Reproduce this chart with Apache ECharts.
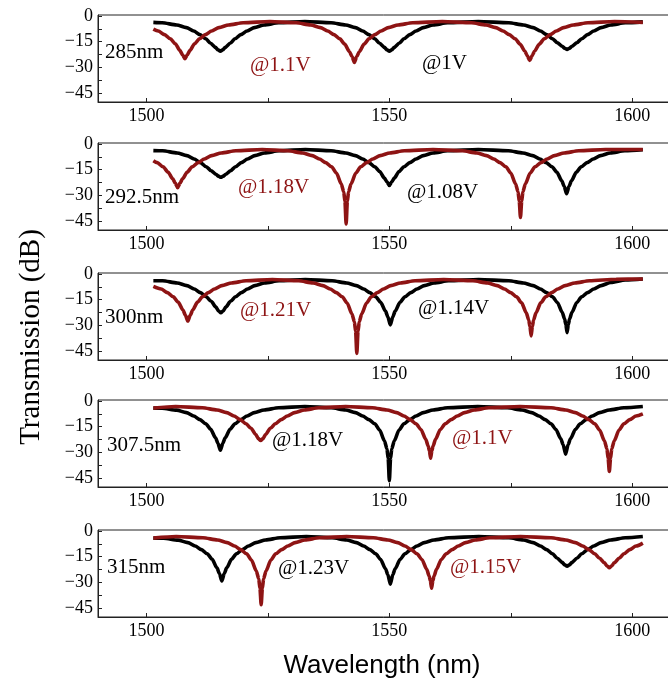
<!DOCTYPE html>
<html>
<head>
<meta charset="utf-8">
<script src="https://cdn.jsdelivr.net/npm/echarts@6/dist/echarts.min.js"></script>
<style>
html, body { margin: 0; padding: 0; background: #fff; }
#main { width: 668px; height: 693px; }
</style>
</head>
<body>
<div id="main"></div>
<script>
// ticks
var xTicks = [1500, 1525, 1550, 1575, 1600];
var xLabels = [1500, 1550, 1600];
var yTicks = [0, -7.5, -15, -22.5, -30, -37.5, -45];
var yLabels = [0, -15, -30, -45];

// panel texts
var gapNames = ['285nm', '292.5nm', '300nm', '307.5nm', '315nm'];
var blackVolts = ['@1V', '@1.08V', '@1.14V', '@1.18V', '@1.23V'];
var redVolts = ['@1.1V', '@1.18V', '@1.21V', '@1.1V', '@1.15V'];

// transmission spectra [wavelength nm, dB]
var p1Black = [[1501.4,-3.8],[1503.2,-4.0],[1506.2,-5.3],[1508.2,-6.8],[1509.7,-8.8],[1511.0,-10.9],[1512.2,-13.3],[1513.2,-15.9],[1514.2,-18.3],[1514.7,-19.7],[1515.2,-20.5],[1515.7,-19.7],[1516.2,-18.3],[1517.2,-15.9],[1518.2,-13.3],[1519.4,-10.9],[1520.7,-8.8],[1522.2,-6.8],[1524.2,-5.3],[1527.2,-4.0],[1532.6,-3.3],
  [1538,-4.0],[1541,-5.3],[1543,-6.8],[1544.5,-8.8],[1545.8,-10.9],[1547,-13.3],[1548,-15.9],[1549,-18.3],[1549.5,-19.7],[1550,-20.5],[1550.5,-19.7],[1551,-18.3],[1552,-15.9],[1553,-13.3],[1554.2,-10.9],[1555.5,-8.8],[1557,-6.8],[1559,-5.3],[1562,-4.0],[1568.3,-3.3],
  [1574.6,-4.0],[1577.6,-5.3],[1579.6,-6.8],[1581.1,-8.8],[1582.4,-10.9],[1583.6,-13.3],[1584.6,-15.6],[1585.6,-17.6],[1586.1,-18.8],[1586.6,-19.5],[1587.1,-18.8],[1587.6,-17.6],[1588.6,-15.6],[1589.6,-13.3],[1590.8,-10.9],[1592.1,-8.8],[1593.6,-6.8],[1595.6,-5.3],[1598.6,-4.0],[1602.2,-3.5]];
var p1Red = [[1501.4,-7.7],[1502.4,-8.8],[1503.7,-10.9],[1504.9,-13.3],[1505.9,-16.2],[1506.9,-20.2],[1507.4,-22.6],[1507.9,-24.9],[1508.4,-22.6],[1508.9,-20.2],[1509.9,-16.2],[1510.9,-13.3],[1512.1,-10.9],[1513.4,-8.8],[1514.9,-6.8],[1516.9,-5.3],[1519.9,-4.0],[1525.4,-3.3],
  [1530.8,-4.0],[1533.8,-5.3],[1535.8,-6.8],[1537.3,-8.8],[1538.6,-10.9],[1539.8,-13.3],[1540.8,-16.4],[1541.8,-20.8],[1542.3,-23.6],[1542.8,-27],[1543.3,-23.6],[1543.8,-20.8],[1544.8,-16.4],[1545.8,-13.3],[1547.0,-10.9],[1548.3,-8.8],[1549.8,-6.8],[1551.8,-5.3],[1554.8,-4.0],[1560.9,-3.3],
  [1566.9,-4.0],[1569.9,-5.3],[1571.9,-6.8],[1573.4,-8.8],[1574.7,-10.9],[1575.9,-13.3],[1576.9,-16.3],[1577.9,-20.5],[1578.4,-23.1],[1578.9,-25.9],[1579.4,-23.1],[1579.9,-20.5],[1580.9,-16.3],[1581.9,-13.3],[1583.1,-10.9],[1584.4,-8.8],[1585.9,-6.8],[1587.9,-5.3],[1590.9,-4.0],[1596.4,-3.3],[1602.2,-3.8]];

var p2Black = [[1501.4,-3.9],[1503.3,-4.0],[1506.3,-5.3],[1508.3,-6.8],[1509.8,-8.8],[1511.1,-10.9],[1512.3,-13.3],[1513.3,-15.6],[1514.3,-17.6],[1514.8,-18.7],[1515.3,-19.4],[1515.8,-18.7],[1516.3,-17.6],[1517.3,-15.6],[1518.3,-13.3],[1519.5,-10.9],[1520.8,-8.8],[1522.3,-6.8],[1524.3,-5.3],[1527.3,-4.0],[1532.7,-3.3],
  [1538,-4.0],[1541,-5.3],[1543,-6.8],[1544.5,-8.8],[1545.8,-10.9],[1547,-13.3],[1548,-16.0],[1549,-19.9],[1549.5,-22.0],[1550,-24.1],[1550.5,-22.0],[1551,-19.9],[1552,-16.0],[1553,-13.3],[1554.2,-10.9],[1555.5,-8.8],[1557,-6.8],[1559,-5.3],[1562,-4.0],[1568.3,-3.3],
  [1574.5,-4.0],[1577.5,-5.3],[1579.5,-6.8],[1581,-8.8],[1582.3,-10.9],[1583.5,-13.3],[1584.5,-16.5],[1585.5,-21.4],[1586,-24.7],[1586.5,-28.9],[1587,-24.7],[1587.5,-21.4],[1588.5,-16.5],[1589.5,-13.3],[1590.7,-10.9],[1592,-8.8],[1593.5,-6.8],[1595.5,-5.3],[1598.5,-4.0],[1602.2,-3.4]];
var p2Red = [[1501.4,-9.8],[1502.2,-10.9],[1503.4,-13.3],[1504.4,-16.3],[1505.4,-20.3],[1505.9,-22.8],[1506.4,-25.5],[1506.9,-22.8],[1507.4,-20.3],[1508.4,-16.3],[1509.4,-13.3],[1510.6,-10.9],[1511.9,-8.8],[1513.4,-6.8],[1515.4,-5.3],[1518.4,-4.0],[1523.8,-3.3],
  [1529.1,-4.0],[1532.1,-5.3],[1534.1,-6.8],[1535.6,-8.8],[1536.9,-10.9],[1538.1,-13.3],[1539.1,-16.9],[1540.1,-23.3],[1540.6,-27.8],[1540.85,-33.3],[1541.1,-46.5],[1541.35,-33.3],[1541.6,-27.8],[1542.1,-23.3],[1543.1,-16.9],[1544.1,-13.3],[1545.3,-10.9],[1546.6,-8.8],[1548.1,-6.8],[1550.1,-5.3],[1553.1,-4.0],[1559,-3.3],
  [1565,-4.0],[1568,-5.3],[1570,-6.8],[1571.5,-8.8],[1572.8,-10.9],[1574,-13.3],[1575,-16.9],[1576,-23.3],[1576.5,-27.8],[1576.75,-33.3],[1577,-42.7],[1577.25,-33.3],[1577.5,-27.8],[1578,-23.3],[1579,-16.9],[1580,-13.3],[1581.2,-10.9],[1582.5,-8.8],[1584,-6.8],[1586,-5.3],[1589,-4.0],[1594.5,-3.3],[1602.2,-3.3]];

var p3Black = [[1501.4,-4.0],[1503.3,-4.0],[1506.3,-5.3],[1508.3,-6.8],[1509.8,-8.8],[1511.1,-10.9],[1512.3,-13.3],[1513.3,-15.9],[1514.3,-19.3],[1514.8,-21.5],[1515.3,-22.6],[1515.8,-21.5],[1516.3,-19.3],[1517.3,-15.9],[1518.3,-13.3],[1519.5,-10.9],[1520.8,-8.8],[1522.3,-6.8],[1524.3,-5.3],[1527.3,-4.0],[1532.7,-3.3],
  [1538.2,-4.0],[1541.2,-5.3],[1543.2,-6.8],[1544.7,-8.8],[1546,-10.9],[1547.2,-13.3],[1548.2,-16.5],[1549.2,-21.6],[1549.7,-25.0],[1550.2,-29.7],[1550.7,-25.0],[1551.2,-21.6],[1552.2,-16.5],[1553.2,-13.3],[1554.4,-10.9],[1555.7,-8.8],[1557.2,-6.8],[1559.2,-5.3],[1562.2,-4.0],[1568.4,-3.3],
  [1574.6,-4.0],[1577.6,-5.3],[1579.6,-6.8],[1581.1,-8.8],[1582.4,-10.9],[1583.6,-13.3],[1584.6,-16.6],[1585.6,-22.3],[1586.1,-26.3],[1586.35,-29.5],[1586.6,-34.1],[1586.85,-29.5],[1587.1,-26.3],[1587.6,-22.3],[1588.6,-16.6],[1589.6,-13.3],[1590.8,-10.9],[1592.1,-8.8],[1593.6,-6.8],[1595.6,-5.0],[1598.6,-3.6],[1602.2,-3.0]];
var p3Red = [[1501.4,-7.3],[1503,-8.8],[1504.3,-10.9],[1505.5,-13.3],[1506.5,-16.4],[1507.5,-21.0],[1508,-24.0],[1508.5,-27.4],[1509,-24.0],[1509.5,-21.0],[1510.5,-16.4],[1511.5,-13.3],[1512.7,-10.9],[1514,-8.8],[1515.5,-6.8],[1517.5,-5.3],[1520.5,-4.0],[1525.9,-3.3],
  [1531.3,-4.0],[1534.3,-5.3],[1536.3,-6.8],[1537.8,-8.8],[1539.1,-10.9],[1540.3,-13.3],[1541.3,-16.9],[1542.3,-23.3],[1542.8,-27.8],[1543.05,-33.3],[1543.3,-46.2],[1543.55,-33.3],[1543.8,-27.8],[1544.3,-23.3],[1545.3,-16.9],[1546.3,-13.3],[1547.5,-10.9],[1548.8,-8.8],[1550.3,-6.8],[1552.3,-5.3],[1555.3,-4.0],[1561.2,-3.3],
  [1567.2,-4.0],[1570.2,-5.3],[1572.2,-6.8],[1573.7,-8.8],[1575,-10.9],[1576.2,-13.3],[1577.2,-16.7],[1578.2,-22.6],[1578.7,-26.8],[1578.95,-30.5],[1579.2,-36.0],[1579.45,-30.5],[1579.7,-26.8],[1580.2,-22.6],[1581.2,-16.7],[1582.2,-13.3],[1583.4,-10.9],[1584.7,-8.8],[1586.2,-6.8],[1588.2,-5.3],[1591.2,-4.0],[1596.7,-3.1],[1602.2,-3.0]];

var p4Black = [[1501.4,-4.2],[1503.2,-4.3],[1506.2,-5.4],[1508.2,-6.8],[1509.7,-8.8],[1511,-10.9],[1512.2,-13.3],[1513.2,-16.5],[1514.2,-21.4],[1514.7,-24.6],[1515.2,-28.7],[1515.7,-24.6],[1516.2,-21.4],[1517.2,-16.5],[1518.2,-13.3],[1519.4,-10.9],[1520.7,-8.8],[1522.2,-6.8],[1524.2,-5.3],[1527.2,-4.0],[1532.6,-3.3],
  [1538,-4.0],[1541,-5.3],[1543,-6.8],[1544.5,-8.8],[1545.8,-10.9],[1547,-13.3],[1548,-16.9],[1549,-23.3],[1549.5,-27.8],[1549.75,-33.3],[1550,-46.4],[1550.25,-33.3],[1550.5,-27.8],[1551,-23.3],[1552,-16.9],[1553,-13.3],[1554.2,-10.9],[1555.5,-8.8],[1557,-6.8],[1559,-5.3],[1562,-4.0],[1568.2,-3.3],
  [1574.3,-4.0],[1577.3,-5.3],[1579.3,-6.8],[1580.8,-8.8],[1582.1,-10.9],[1583.3,-13.3],[1584.3,-16.6],[1585.3,-22.0],[1585.8,-25.5],[1586.3,-31.0],[1586.8,-25.5],[1587.3,-22.0],[1588.3,-16.6],[1589.3,-13.3],[1590.5,-10.9],[1591.8,-8.8],[1593.3,-6.8],[1595.3,-5.3],[1598.3,-4.0],[1602.2,-3.3]];
var p4Red = [[1501.4,-4.2],[1506,-3.3],
  [1511.5,-4.0],[1514.5,-5.3],[1516.5,-6.8],[1518,-8.8],[1519.3,-10.9],[1520.5,-13.3],[1521.5,-15.9],[1522.5,-19.5],[1523,-21.8],[1523.5,-23.0],[1524,-21.8],[1524.5,-19.5],[1525.5,-15.9],[1526.5,-13.3],[1527.7,-10.9],[1529,-8.8],[1530.5,-6.8],[1532.5,-5.3],[1535.5,-4.0],[1541,-3.3],
  [1546.5,-4.0],[1549.5,-5.3],[1551.5,-6.8],[1553,-8.8],[1554.3,-10.9],[1555.5,-13.3],[1556.5,-16.6],[1557.5,-22.3],[1558,-26.3],[1558.25,-29],[1558.5,-33.3],[1558.75,-29],[1559,-26.3],[1559.5,-22.3],[1560.5,-16.6],[1561.5,-13.3],[1562.7,-10.9],[1564,-8.8],[1565.5,-6.8],[1567.5,-5.3],[1570.5,-4.0],[1576.9,-3.3],
  [1583.3,-4.0],[1586.3,-5.3],[1588.3,-6.8],[1589.8,-8.8],[1591.1,-10.9],[1592.3,-13.3],[1593.3,-16.9],[1594.3,-23.3],[1594.8,-27.8],[1595.05,-33.3],[1595.3,-41.0],[1595.55,-33.3],[1595.8,-27.8],[1596.3,-23.3],[1597.3,-16.9],[1598.3,-13.3],[1599.5,-10.9],[1600.8,-8.8],[1602.2,-7.6]];

var p5Black = [[1501.4,-4.2],[1503.5,-4.3],[1506.5,-5.4],[1508.5,-6.8],[1510,-8.8],[1511.3,-10.9],[1512.5,-13.3],[1513.5,-16.5],[1514.5,-21.5],[1515,-24.8],[1515.5,-29.1],[1516,-24.8],[1516.5,-21.5],[1517.5,-16.5],[1518.5,-13.3],[1519.7,-10.9],[1521,-8.8],[1522.5,-6.8],[1524.5,-5.3],[1527.5,-4.0],[1532.9,-3.3],
  [1538.2,-4.0],[1541.2,-5.3],[1543.2,-6.8],[1544.7,-8.8],[1546,-10.9],[1547.2,-13.3],[1548.2,-16.6],[1549.2,-22.0],[1549.7,-25.5],[1550.2,-31.0],[1550.7,-25.5],[1551.2,-22.0],[1552.2,-16.6],[1553.2,-13.3],[1554.4,-10.9],[1555.7,-8.8],[1557.2,-6.8],[1559.2,-5.3],[1562.2,-4.0],[1568.4,-3.3],
  [1574.6,-4.0],[1577.6,-5.3],[1579.6,-6.8],[1581.1,-8.8],[1582.4,-10.9],[1583.6,-13.3],[1584.6,-15.9],[1585.6,-18.3],[1586.1,-19.7],[1586.6,-20.5],[1587.1,-19.7],[1587.6,-18.3],[1588.6,-15.9],[1589.6,-13.3],[1590.8,-10.9],[1592.1,-8.8],[1593.6,-6.8],[1595.6,-5.3],[1598.6,-4.0],[1602.2,-3.3]];
var p5Red = [[1501.4,-4.2],[1506.1,-3.3],
  [1511.6,-4.0],[1514.6,-5.3],[1516.6,-6.8],[1518.1,-8.8],[1519.4,-10.9],[1520.6,-13.3],[1521.6,-16.9],[1522.6,-23.3],[1523.1,-27.8],[1523.35,-33.3],[1523.6,-42.9],[1523.85,-33.3],[1524.1,-27.8],[1524.6,-23.3],[1525.6,-16.9],[1526.6,-13.3],[1527.8,-10.9],[1529.1,-8.8],[1530.6,-6.8],[1532.6,-5.3],[1535.6,-4.0],[1541.2,-3.3],
  [1546.7,-4.0],[1549.7,-5.3],[1551.7,-6.8],[1553.2,-8.8],[1554.5,-10.9],[1555.7,-13.3],[1556.7,-16.6],[1557.7,-22.3],[1558.2,-26.3],[1558.45,-29],[1558.7,-33.3],[1558.95,-29],[1559.2,-26.3],[1559.7,-22.3],[1560.7,-16.6],[1561.7,-13.3],[1562.9,-10.9],[1564.2,-8.8],[1565.7,-6.8],[1567.7,-5.3],[1570.7,-4.0],[1577,-3.3],
  [1583.3,-4.0],[1586.3,-5.3],[1588.3,-6.8],[1589.8,-8.8],[1591.1,-10.9],[1592.3,-13.3],[1593.3,-15.9],[1594.3,-18.6],[1594.8,-20.3],[1595.3,-21.4],[1595.8,-20.3],[1596.3,-18.6],[1597.3,-15.9],[1598.3,-13.3],[1599.5,-10.9],[1600.8,-8.8],[1602.2,-7.1]];

var blackSets = [p1Black, p2Black, p3Black, p4Black, p5Black];
var redSets = [p1Red, p2Red, p3Red, p4Red, p5Red];

var BLACK = '#000000';
var RED = '#8e1414';
var SERIF = '"Liberation Serif", "Times New Roman", serif';

var chart = echarts.init(document.getElementById('main'));

var tops = [15, 143, 273, 400, 530];
// label positions [x, y] : gap name, red voltage, black voltage
var namePos = [[105, 52], [105, 197], [105, 317], [107, 445], [107, 567]];
var redPos = [[250, 65], [238, 187], [240, 310], [452, 438], [450, 567]];
var blackPos = [[422, 63], [407, 192], [418, 308], [272, 440], [278, 568]];

var grids = [], xAxes = [], yAxes = [], series = [], graphics = [];

function minusFmt(v) {
    return v < 0 ? '\u2212' + Math.abs(v) : String(v);
}

tops.forEach(function (t, i) {
    grids.push({
        left: 98, right: -3, top: t, height: 87,
        show: true, borderColor: '#222', borderWidth: 1,
        outerBoundsMode: 'none'
    });
    xAxes.push({
        type: 'value', gridIndex: i, min: 1490, max: 1608,
        axisLine: { show: true, onZero: false, lineStyle: { color: '#222', width: 1 } },
        axisTick: { show: true, inside: true, length: 4, customValues: xTicks, lineStyle: { color: '#222' } },
        axisLabel: { customValues: xLabels, margin: 5, color: '#000', fontFamily: SERIF, fontSize: 18,
            formatter: function (v) { return String(v); } },
        splitLine: { show: false }
    });
    yAxes.push({
        type: 'value', gridIndex: i, min: -50, max: 0.5,
        axisLine: { show: true, onZero: false, lineStyle: { color: '#222', width: 1 } },
        axisTick: { show: true, inside: true, length: 4, customValues: yTicks, lineStyle: { color: '#222' } },
        axisLabel: { customValues: yLabels, margin: 5, color: '#000', fontFamily: SERIF, fontSize: 18, formatter: minusFmt },
        splitLine: { show: false }
    });
    series.push({
        type: 'line', xAxisIndex: i, yAxisIndex: i, data: blackSets[i],
        showSymbol: false, smooth: 0.25, smoothMonotone: 'x',
        lineStyle: { color: BLACK, width: 3.6 }, silent: true
    });
    series.push({
        type: 'line', xAxisIndex: i, yAxisIndex: i, data: redSets[i],
        showSymbol: false, smooth: 0.25, smoothMonotone: 'x',
        lineStyle: { color: RED, width: 3.6 }, silent: true
    });
    graphics.push({
        type: 'text', x: namePos[i][0], y: namePos[i][1],
        style: { text: gapNames[i], fill: '#000', font: '21px ' + SERIF, verticalAlign: 'middle' }
    });
    graphics.push({
        type: 'text', x: redPos[i][0], y: redPos[i][1],
        style: { text: redVolts[i], fill: RED, font: '21px ' + SERIF, verticalAlign: 'middle' }
    });
    graphics.push({
        type: 'text', x: blackPos[i][0], y: blackPos[i][1],
        style: { text: blackVolts[i], fill: '#000', font: '21px ' + SERIF, verticalAlign: 'middle' }
    });
});

graphics.push({
    type: 'text', x: 31, y: 337, rotation: Math.PI / 2,
    style: { text: 'Transmission (dB)', fill: '#000', font: '29px ' + SERIF, align: 'center', verticalAlign: 'middle' }
});
graphics.push({
    type: 'text', x: 382, y: 666,
    style: { text: 'Wavelength (nm)', fill: '#000', font: '26px "Liberation Sans", Arial, sans-serif', align: 'center', verticalAlign: 'middle' }
});

chart.setOption({
    animation: false,
    grid: grids,
    xAxis: xAxes,
    yAxis: yAxes,
    series: series,
    graphic: graphics
});
</script>
</body>
</html>
